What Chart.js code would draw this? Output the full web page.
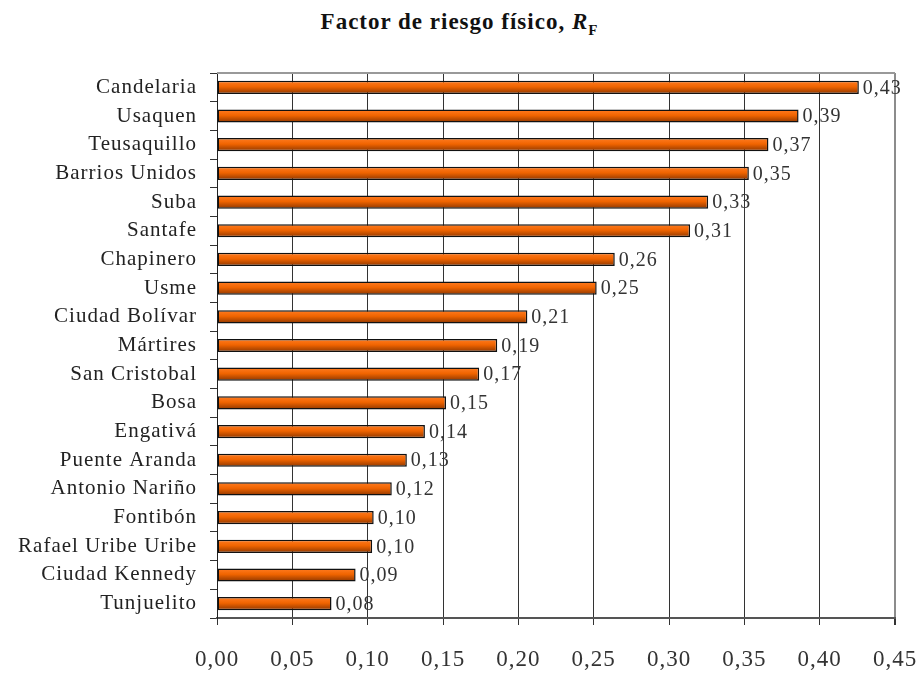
<!DOCTYPE html>
<html>
<head>
<meta charset="utf-8">
<script src="https://cdn.jsdelivr.net/npm/chart.js@4"></script>
<style>
  body { margin: 0; background: #fff; }
  #wrap { position: relative; width: 919px; height: 675px; }
  #title {
    position: absolute; top: 9px; left: 0; width: 919px;
    text-align: center; font: bold 23px "Liberation Serif", "DejaVu Serif", serif; color: #111;
    line-height: 26px; letter-spacing: 1px;
  }
  #title sub { font-size: 15px; line-height: 0; }
  canvas { position: absolute; top: 0; left: 0; }
</style>
</head>
<body>
<div id="wrap">
  <div id="title">Factor de riesgo físico, <i>R</i><sub>F</sub></div>
  <canvas id="riskChart" width="919" height="675"></canvas>
</div>
<script>
// localidades, sorted as in the figure (top to bottom)
const localidades = [
  'Candelaria', 'Usaquen', 'Teusaquillo', 'Barrios Unidos', 'Suba', 'Santafe',
  'Chapinero', 'Usme', 'Ciudad Bolívar', 'Mártires', 'San Cristobal', 'Bosa',
  'Engativá', 'Puente Aranda', 'Antonio Nariño', 'Fontibón', 'Rafael Uribe Uribe',
  'Ciudad Kennedy', 'Tunjuelito'
];
// physical risk factor R_F
const riesgo = [
  0.426, 0.386, 0.366, 0.353, 0.326, 0.314,
  0.264, 0.252, 0.206, 0.186, 0.174, 0.152,
  0.138, 0.126, 0.116, 0.104, 0.103,
  0.092, 0.076
];
const xMin = 0;
const xMax = 0.45;
const xStep = 0.05;

const fmt = v => v.toFixed(2).replace('.', ',');
const serif = '"Liberation Serif", "DejaVu Serif", serif';

// slightly wider lettering, closer to the Garamond of the original
const spacing = {
  id: 'spacing',
  beforeDraw(chart) { chart.ctx.letterSpacing = '1px'; },
  afterDraw(chart) { chart.ctx.letterSpacing = '0px'; }
};

// value text to the right of each bar
const valueLabels = {
  id: 'valueLabels',
  afterDatasetsDraw(chart) {
    const ctx = chart.ctx;
    const meta = chart.getDatasetMeta(0);
    ctx.save();
    ctx.font = '20px ' + serif;
    ctx.fillStyle = '#333';
    ctx.textBaseline = 'middle';
    meta.data.forEach((bar, i) => {
      ctx.fillText(fmt(riesgo[i]), bar.x + 4, bar.y + 1);
    });
    ctx.restore();
  }
};

// top edge of the plot frame
const frameTop = {
  id: 'frameTop',
  beforeDatasetsDraw(chart) {
    const a = chart.chartArea;
    const ctx = chart.ctx;
    ctx.save();
    ctx.strokeStyle = '#999';
    ctx.lineWidth = 2;
    ctx.beginPath();
    ctx.moveTo(a.left, a.top);
    ctx.lineTo(a.right, a.top);
    ctx.stroke();
    ctx.restore();
  }
};

const cv = document.getElementById('riskChart');

new Chart(cv.getContext('2d'), {
  type: 'bar',
  data: {
    labels: localidades,
    datasets: [{
      data: riesgo,
      backgroundColor: function (c) {
        const chart = c.chart;
        if (!chart.chartArea || c.type !== 'data') return '#f06400';
        const y = chart.scales.y.getPixelForValue(c.dataIndex);
        const g = chart.ctx.createLinearGradient(0, y - 6, 0, y + 6);
        g.addColorStop(0, '#ff7a1f');
        g.addColorStop(0.45, '#f06400');
        g.addColorStop(1, '#953a00');
        return g;
      },
      borderColor: '#111',
      borderWidth: 1.5,
      borderSkipped: false,
      categoryPercentage: 1,
      barPercentage: 0.46
    }]
  },
  plugins: [spacing, frameTop, valueLabels],
  options: {
    indexAxis: 'y',
    responsive: false,
    animation: false,
    layout: { padding: { top: 73, right: 24, left: 0, bottom: 0 } },
    plugins: {
      legend: { display: false },
      title: { display: false },
      tooltip: { enabled: false }
    },
    scales: {
      x: {
        min: xMin,
        max: xMax,
        afterFit: s => { s.height = 57; s.paddingRight = 0; s.paddingLeft = 0; },
        ticks: {
          stepSize: xStep,
          callback: v => fmt(v),
          font: { family: serif, size: 23 },
          color: '#333',
          padding: 21,
          maxRotation: 0
        },
        grid: {
          color: c => (c.tick && c.tick.value > 0.449 ? '#8c8c8c' : '#333'),
          lineWidth: c => (c.tick && c.tick.value > 0.449 ? 2 : 1),
          tickLength: 7,
          tickColor: '#333'
        },
        border: { color: '#555', width: 2 }
      },
      y: {
        afterFit: s => { s.width = 217; s.paddingTop = 0; s.paddingBottom = 0; },
        ticks: {
          font: { family: serif, size: 21 },
          color: '#222',
          padding: 13
        },
        grid: {
          offset: true,
          drawOnChartArea: false,
          tickLength: 7,
          color: '#333'
        },
        border: { color: '#222', width: 1 }
      }
    }
  }
});
</script>
</body>
</html>
